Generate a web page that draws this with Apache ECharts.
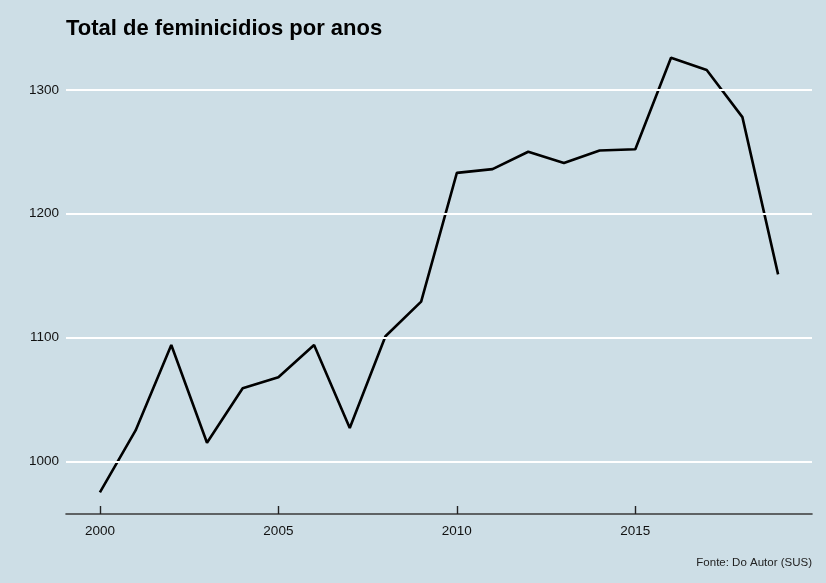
<!DOCTYPE html>
<html>
<head>
<meta charset="utf-8">
<script src="https://cdn.jsdelivr.net/npm/echarts@6/dist/echarts.min.js"></script>
<style>
  html, body { margin: 0; padding: 0; background: #cddee6; }
  #main { width: 826px; height: 583px; }
</style>
</head>
<body>
<div id="main"></div>
<script>
  // dados
  var anos = [2000, 2001, 2002, 2003, 2004, 2005, 2006, 2007, 2008, 2009,
              2010, 2011, 2012, 2013, 2014, 2015, 2016, 2017, 2018, 2019];
  var totais = [975, 1025, 1094, 1015, 1059, 1068, 1094, 1027, 1101, 1129,
                1233, 1236, 1250, 1241, 1251, 1252, 1326, 1316, 1278, 1151];
  var xTicks = [2000, 2005, 2010, 2015];
  var yTicks = [1000, 1100, 1200, 1300];

  var pontos = anos.map(function (a, i) { return [a, totais[i]]; });

  var myChart = echarts.init(document.getElementById('main'));
  var option = {
    backgroundColor: '#cddee6',
    animation: false,
    title: {
      text: 'Total de feminicidios por anos',
      left: 61, top: 13,
      textStyle: { fontFamily: 'Liberation Sans', fontSize: 22, fontWeight: 'bold', color: '#000' }
    },
    graphic: [{
      type: 'text', right: 14, top: 557,
      style: { text: 'Fonte: Do Autor (SUS)', font: '11.5px "Liberation Sans"', fill: '#222' }
    }],
    grid: { left: 66, right: 14, top: 36, bottom: 69 },
    xAxis: {
      type: 'value', min: 1999.05, max: 2019.95,
      axisLine: { show: true, lineStyle: { color: '#3a3a3a', width: 1.6 } },
      axisTick: { show: true, inside: true, length: 8, customValues: xTicks,
                  lineStyle: { color: '#222', width: 1.4 } },
      axisLabel: { customValues: xTicks, margin: 10, color: '#111',
                   fontFamily: 'Liberation Sans', fontSize: 13.5,
                   formatter: function (v) { return String(v); } },
      splitLine: { show: false }
    },
    yAxis: {
      type: 'value', min: 957.5, max: 1343.5,
      axisLine: { show: false },
      axisTick: { show: false },
      axisLabel: { customValues: yTicks, margin: 7, color: '#111',
                   fontFamily: 'Liberation Sans', fontSize: 13.5,
                   formatter: function (v) { return String(v); } },
      splitLine: { show: false }
    },
    series: [{
      type: 'line', data: [], z: 1, silent: true,
      markLine: {
        silent: true, symbol: 'none', label: { show: false },
        lineStyle: { color: '#ffffff', width: 2.2, type: 'solid' },
        data: yTicks.map(function (v) { return { yAxis: v }; })
      }
    }, {
      type: 'line', data: pontos, z: 3,
      showSymbol: false, symbol: 'none',
      lineStyle: { color: '#000', width: 2.6 }
    }]
  };
  myChart.setOption(option);
</script>
</body>
</html>
